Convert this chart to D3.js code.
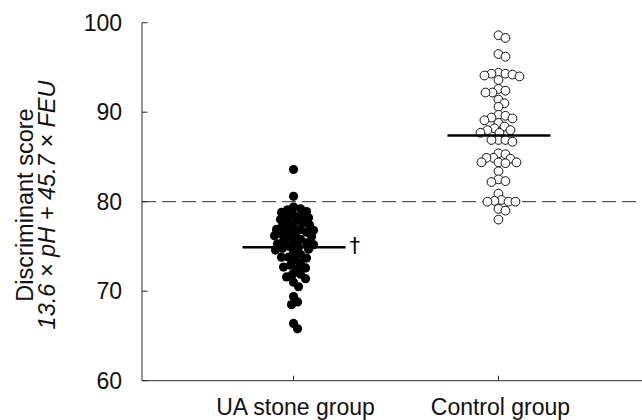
<!DOCTYPE html>
<html>
<head>
<meta charset="utf-8">
<script src="https://cdn.jsdelivr.net/npm/d3@7"></script>
<style>
  body { margin: 0; background: #fff; }
  svg { display: block; font-family: "Liberation Sans", Arial, Helvetica, sans-serif; }
</style>
</head>
<body>
<svg id="chart" width="642" height="420"></svg>
<script>
// groupes et valeurs
const groups = ["UA stone group", "Control group"];

const uaScores = [
  83.6, 80.6, 79.4, 79.2, 79.1, 78.9, 78.8,
  78.5, 78.4, 78.3, 78.2, 78.0,
  77.8, 77.6, 77.6, 77.4, 77.3,
  77.0, 76.9, 76.9, 76.8, 76.7, 76.6,
  76.4, 76.3, 76.2, 76.1, 76.0,
  75.8, 75.6, 75.5, 75.4, 75.3, 75.2,
  75.0, 74.9, 74.8, 74.7, 74.6,
  74.3, 74.1, 73.8, 73.8, 73.7, 73.5,
  73.1, 72.9, 72.7, 72.6, 72.5,
  71.9, 71.9, 71.6, 71.4, 71.0,
  70.5,
  69.4, 68.8, 68.5,
  66.4, 65.8
];

const controlScores = [
  98.6, 98.3,
  96.5, 96.2,
  94.4, 94.3, 94.2, 94.1, 94.0, 94.3,
  93.6,
  92.6, 92.4, 92.2, 92.2,
  91.4, 91.0, 90.6,
  89.7, 89.6, 89.4, 89.3, 89.1, 88.8,
  88.4, 88.2, 88.0, 88.0, 87.7, 87.7,
  86.9, 86.9, 86.9, 86.7,
  85.4, 85.3,
  84.9, 84.9, 84.8, 84.4, 84.4, 84.4, 84.3,
  83.4,
  82.5, 82.3, 82.2,
  80.9,
  80.2, 80.1, 80.0, 80.0, 80.0,
  79.2, 79.0,
  78.0
];

const groupMeans = [74.9, 87.4];
const cutoff = 80;
const yTicks = [60, 70, 80, 90, 100];

const svg = d3.select("#chart");
const axisColor = "#2a2a2a";

const y = d3.scaleLinear().domain([60, 100]).range([380.7, 22.7]);
const x = d3.scalePoint().domain(groups).range([146, 646]).padding(0.72);

// axe vertical
svg.append("line")
  .attr("x1", 142).attr("x2", 142)
  .attr("y1", y(100)).attr("y2", y(60))
  .attr("stroke", axisColor).attr("stroke-width", 1);

// axe horizontal
svg.append("line")
  .attr("x1", 142).attr("x2", 642)
  .attr("y1", y(60)).attr("y2", y(60))
  .attr("stroke", axisColor).attr("stroke-width", 1);

svg.selectAll(".ytick")
  .data(yTicks)
  .join("line")
  .attr("class", "ytick")
  .attr("x1", 142).attr("x2", 147.5)
  .attr("y1", d => y(d)).attr("y2", d => y(d))
  .attr("stroke", axisColor);

svg.selectAll(".ylab")
  .data(yTicks)
  .join("text")
  .attr("class", "ylab")
  .attr("x", 122)
  .attr("y", d => y(d) + 8)
  .attr("text-anchor", "end")
  .attr("font-size", 23)
  .attr("fill", "#111")
  .text(d => d);

svg.selectAll(".xtick")
  .data(groups)
  .join("line")
  .attr("class", "xtick")
  .attr("x1", d => x(d)).attr("x2", d => x(d))
  .attr("y1", y(60)).attr("y2", y(60) - 5)
  .attr("stroke", axisColor);

svg.selectAll(".xlab")
  .data(groups)
  .join("text")
  .attr("class", "xlab")
  .attr("x", d => x(d) + 2)
  .attr("y", 415)
  .attr("text-anchor", "middle")
  .attr("font-size", 23)
  .attr("fill", "#111")
  .text(d => d);

// titre de l'axe y
const yTitle = svg.append("g").attr("transform", "translate(0,205) rotate(-90)");
yTitle.append("text")
  .attr("x", 0).attr("y", 33)
  .attr("text-anchor", "middle")
  .attr("font-size", 23.5)
  .attr("fill", "#111")
  .text("Discriminant score");
yTitle.append("text")
  .attr("x", 0).attr("y", 55)
  .attr("text-anchor", "middle")
  .attr("font-size", 23.5)
  .attr("font-style", "italic")
  .attr("fill", "#111")
  .text("13.6 × pH + 45.7 × FEU");

// seuil en pointillés
svg.append("line")
  .attr("x1", 142).attr("x2", 642)
  .attr("y1", y(cutoff)).attr("y2", y(cutoff))
  .attr("stroke", axisColor)
  .attr("stroke-width", 1)
  .attr("stroke-dasharray", "14,6");

// placement en essaim (beeswarm) pour éviter les superpositions
function dodge(values, cx, minDist) {
  const placed = [];
  const sorted = values.slice().sort((a, b) => b - a);
  sorted.forEach(v => {
    const py = y(v);
    let off = 0;
    for (let k = 0; k < 200; k++) {
      const cand = k === 0 ? 0 : (k % 2 ? 1 : -1) * Math.ceil(k / 2);
      const ok = placed.every(p => Math.hypot(p.x - (cx + cand), p.y - py) >= minDist);
      if (ok) { off = cand; break; }
    }
    placed.push({ x: cx + off, y: py, v });
  });
  return placed;
}

const uaPts = dodge(uaScores, x(groups[0]), 6.4);
const ctlPts = dodge(controlScores, x(groups[1]), 6.6);

svg.append("g").selectAll("circle")
  .data(ctlPts)
  .join("circle")
  .attr("cx", d => d.x).attr("cy", d => d.y)
  .attr("r", 4.4)
  .attr("fill", "#fff")
  .attr("stroke", "#111")
  .attr("stroke-width", 1);

svg.append("g").selectAll("circle")
  .data(uaPts)
  .join("circle")
  .attr("cx", d => d.x).attr("cy", d => d.y)
  .attr("r", 4.6)
  .attr("fill", "#000");

// moyennes
svg.selectAll(".mean")
  .data(groups)
  .join("line")
  .attr("class", "mean")
  .attr("x1", d => x(d) - 51).attr("x2", d => x(d) + 52)
  .attr("y1", (d, i) => y(groupMeans[i])).attr("y2", (d, i) => y(groupMeans[i]))
  .attr("stroke", "#000")
  .attr("stroke-width", 2.5);

svg.append("text")
  .attr("x", x(groups[0]) + 56)
  .attr("y", y(groupMeans[0]) + 6)
  .attr("font-family", "'DejaVu Sans', sans-serif")
  .attr("font-size", 21)
  .attr("fill", "#000")
  .text("\u2020");
</script>
</body>
</html>
